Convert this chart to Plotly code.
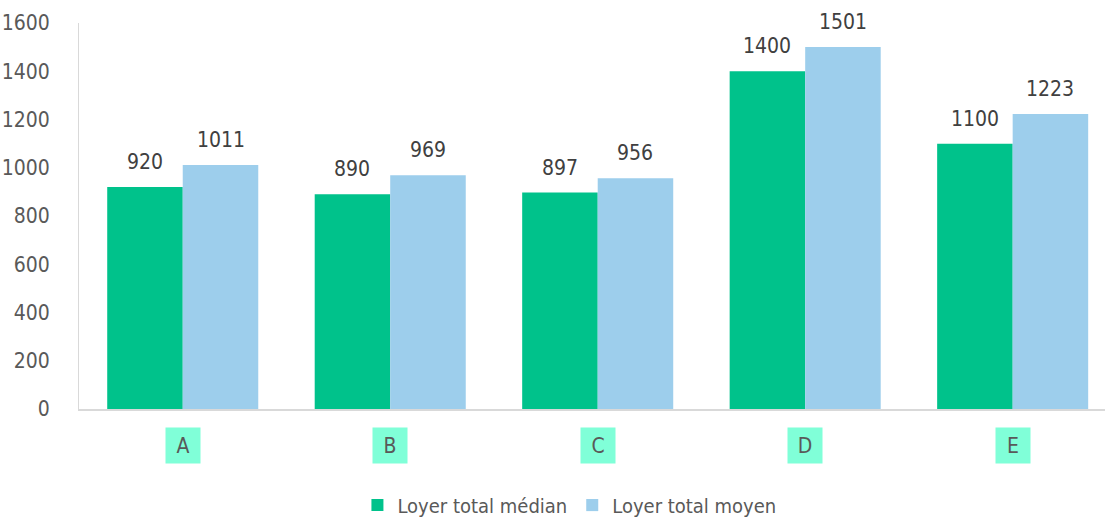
import plotly.graph_objects as go

categories = ["A", "B", "C", "D", "E"]
median_vals = [920, 890, 897, 1400, 1100]
mean_vals = [1011, 969, 956, 1501, 1223]
series_names = ["Loyer total médian", "Loyer total moyen"]
y_ticks = [0, 200, 400, 600, 800, 1000, 1200, 1400, 1600]

FONT = "Liberation Sans Narrow, DejaVu Sans Condensed, Arial Narrow, sans-serif"
GREEN = "#00C28B"
BLUE = "#9DCEEC"
MINT = "#80FFD8"

fig = go.Figure()
fig.add_trace(go.Bar(x=categories, y=median_vals, name=series_names[0],
                     marker=dict(color=GREEN, line=dict(width=0))))
fig.add_trace(go.Bar(x=categories, y=mean_vals, name=series_names[1],
                     marker=dict(color=BLUE, line=dict(width=0))))

annotations = []
# value labels
for i, c in enumerate(categories):
    for vals, off in ((median_vals, -0.182), (mean_vals, 0.182)):
        annotations.append(dict(x=i + off, y=vals[i], xref="x", yref="y",
                                text=str(vals[i]), showarrow=False,
                                yanchor="bottom", yshift=11,
                                font=dict(family=FONT, size=21, color="#404040")))
    # category label boxes
    annotations.append(dict(x=i, y=-0.0946, xref="x", yref="paper",
                            text=c, showarrow=False, yanchor="middle",
                            bgcolor=MINT, width=30, height=31, borderpad=2,
                            font=dict(family=FONT, size=21, color="#595959")))

fig.update_layout(
    width=1105, height=518,
    margin=dict(l=79, r=0, t=23, b=109, autoexpand=False),
    paper_bgcolor="white", plot_bgcolor="white",
    barmode="group", bargap=0.272, bargroupgap=0,
    font=dict(family=FONT, size=20, color="#595959"),
    xaxis=dict(range=[-0.5, 4.445], showticklabels=False, showline=True,
               linecolor="#D9D9D9", linewidth=2, showgrid=False, zeroline=False,
               automargin=False),
    yaxis=dict(range=[0, 1600], tickvals=y_ticks, showline=True,
               linecolor="#D9D9D9", linewidth=1, showgrid=False, zeroline=False,
               ticklabelstandoff=24, automargin=False,
               tickfont=dict(family=FONT, size=21, color="#595959")),
    legend=dict(orientation="h", x=0.478, y=-0.249, xanchor="center",
                yanchor="middle", font=dict(family=FONT, size=20, color="#595959"),
                itemwidth=30, traceorder="normal"),
    annotations=annotations,
)

fig.write_html("out.html",
               config={"displayModeBar": False},
               post_script="document.body.style.margin='0px';document.body.style.overflow='hidden';")
